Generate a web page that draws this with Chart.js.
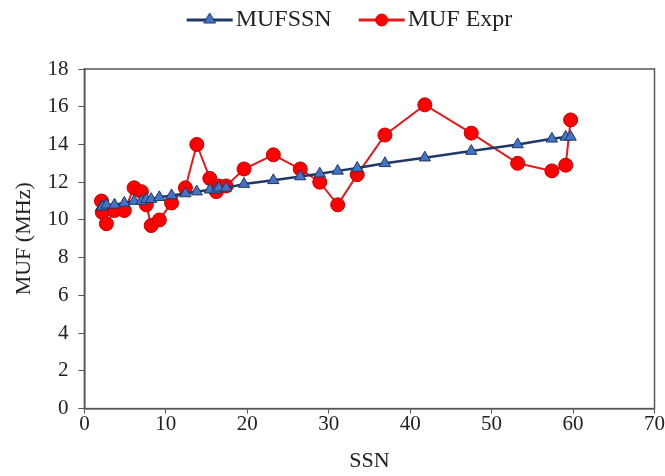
<!DOCTYPE html>
<html lang="en">
<head>
    <meta charset="UTF-8">
    <title>MUF vs SSN</title>
    <script src="https://cdn.jsdelivr.net/npm/chart.js"></script>
    <style>
        body { margin: 0; background: #fff; }
    </style>
</head>
<body>
    <canvas id="mufChart" width="665" height="476"></canvas>
    <script>
        // SSN values shared by both series
        const ssn = [2.1, 2.2, 2.7, 3.7, 4.9, 6.1, 7.0, 7.6, 8.2, 9.2, 10.7, 12.4, 13.8, 15.4, 16.2,
                     16.5, 17.4, 19.6, 23.2, 26.5, 28.9, 31.1, 33.5, 36.9, 41.8, 47.5, 53.2, 57.4, 59.1, 59.7];
        const mufSsn = [10.7, 10.7, 10.8, 10.8, 10.9, 11.0, 11.0, 11.1, 11.1, 11.2, 11.3, 11.4, 11.5, 11.6, 11.6,
                        11.7, 11.7, 11.9, 12.1, 12.3, 12.45, 12.6, 12.75, 13.0, 13.3, 13.65, 14.0, 14.3, 14.4, 14.4];
        const mufExpr = [11.0, 10.4, 9.8, 10.5, 10.5, 11.7, 11.5, 10.8, 9.7, 10.0, 10.9, 11.7, 14.0, 12.2, 11.5,
                         11.8, 11.8, 12.7, 13.45, 12.7, 12.0, 10.8, 12.4, 14.5, 16.1, 14.6, 13.0, 12.6, 12.9, 15.3];

        const tickFont = { family: 'Liberation Serif', size: 21, lineHeight: 1 };
        const labelFont = { family: 'Liberation Serif', size: 22 };
        const legendFont = { family: 'Liberation Serif', size: 24 };

        // legend swatch: line with marker, transparent space on the left as gap between items
        function legendIcon(style, fill, line, stroke) {
            const c = document.createElement('canvas');
            c.width = 76; c.height = 16;
            const g = c.getContext('2d');
            g.strokeStyle = line; g.lineWidth = 3;
            g.beginPath(); g.moveTo(29, 8); g.lineTo(75, 8); g.stroke();
            g.fillStyle = fill; g.strokeStyle = stroke; g.lineWidth = 1;
            g.beginPath();
            if (style === 'triangle') {
                g.moveTo(52, 1); g.lineTo(58, 11); g.lineTo(46, 11); g.closePath();
            } else {
                g.arc(52, 8, 6, 0, Math.PI * 2);
            }
            g.fill(); g.stroke();
            return c;
        }

        const boxPlugin = {
            id: 'box',
            beforeInit(chart) {
                const fit = chart.legend.fit;
                chart.legend.fit = function () {
                    fit.call(this);
                    this.height += 27;
                };
            },
            afterDraw(chart) {
                const a = chart.chartArea, g = chart.ctx;
                g.save();
                g.strokeStyle = '#555';
                g.lineWidth = 1.5;
                g.strokeRect(a.left, a.top, a.right - a.left, a.bottom - a.top);
                g.restore();
            }
        };

        const toPts = vals => vals.map((v, i) => ({ x: ssn[i], y: v }));

        new Chart(document.getElementById('mufChart'), {
            type: 'line',
            data: {
                datasets: [
                    {
                        label: 'MUFSSN',
                        data: toPts(mufSsn),
                        borderColor: '#1F3864',
                        borderWidth: 2.5,
                        backgroundColor: '#4472C4',
                        pointStyle: 'triangle',
                        pointRadius: 6.5,
                        pointBorderColor: '#1F3864',
                        pointBorderWidth: 1,
                        legendIcon: legendIcon('triangle', '#4472C4', '#1F3864', '#1F3864')
                    },
                    {
                        label: 'MUF Expr',
                        data: toPts(mufExpr),
                        borderColor: '#E41A1C',
                        borderWidth: 2,
                        backgroundColor: '#FF0000',
                        pointStyle: 'circle',
                        pointRadius: 7,
                        pointBorderColor: '#C00000',
                        pointBorderWidth: 1,
                        legendIcon: legendIcon('circle', '#FF0000', '#E41A1C', '#C00000')
                    }
                ]
            },
            options: {
                responsive: false,
                animation: false,
                layout: { padding: { left: 11, right: -4, top: 0, bottom: 0 } },
                plugins: {
                    legend: {
                        position: 'top',
                        labels: {
                            font: legendFont,
                            color: '#222',
                            usePointStyle: true,
                            pointStyleWidth: 56,
                            padding: 8,
                            generateLabels(chart) {
                                return chart.data.datasets.map((d, i) => ({
                                    text: d.label,
                                    pointStyle: d.legendIcon,
                                    datasetIndex: i,
                                    fontColor: '#222',
                                    lineWidth: 0
                                }));
                            }
                        }
                    },
                    tooltip: { enabled: false }
                },
                scales: {
                    x: {
                        type: 'linear',
                        min: 0, max: 70,
                        ticks: { stepSize: 10, font: tickFont, color: '#222', padding: 0 },
                        grid: { drawOnChartArea: false, tickLength: 5, color: '#555' },
                        border: { color: '#555', width: 1.5 },
                        title: { display: true, text: 'SSN', font: labelFont, color: '#222', padding: { top: 13, bottom: 2 } }
                    },
                    y: {
                        min: 0, max: 18,
                        ticks: { stepSize: 2, font: tickFont, color: '#222', padding: 10 },
                        grid: { drawOnChartArea: false, tickLength: 6, color: '#555' },
                        border: { color: '#555', width: 1.5 },
                        title: { display: true, text: 'MUF (MHz)', font: labelFont, color: '#222', padding: { top: 0, bottom: 0 } }
                    }
                }
            },
            plugins: [boxPlugin]
        });
    </script>
</body>
</html>
